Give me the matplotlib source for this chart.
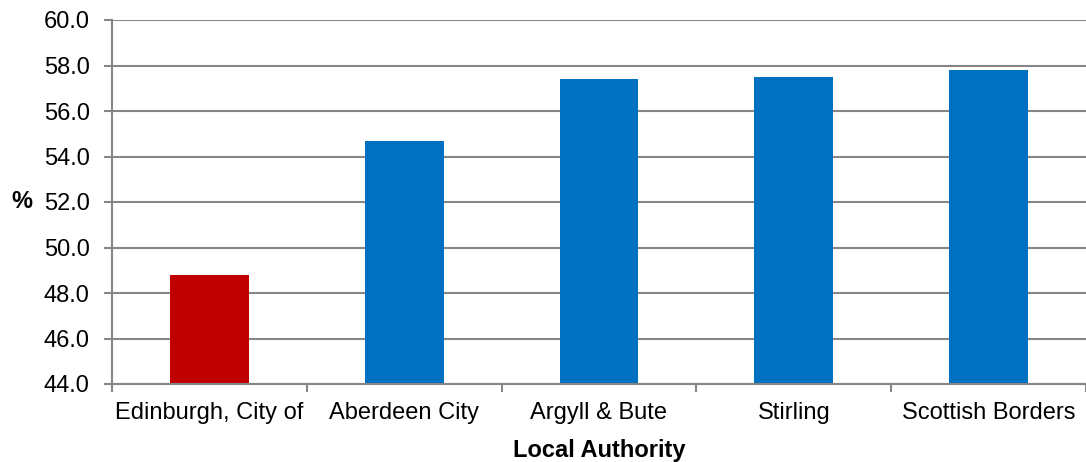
import matplotlib
import numpy as np

matplotlib.use("Agg")
import matplotlib.pyplot as plt  # noqa: E402

plt.rcParams["font.family"] = ["Liberation Sans", "DejaVu Sans"]

# data
authorities = ["Edinburgh, City of", "Aberdeen City", "Argyll & Bute", "Stirling", "Scottish Borders"]
pct = [48.8, 54.7, 57.4, 57.5, 57.8]
bar_colors = ["#C00000", "#0070C0", "#0070C0", "#0070C0", "#0070C0"]
yticks = np.arange(44, 60.1, 2)

GRID = "#868686"
LW = 1.5

fig = plt.figure(figsize=(10.86, 4.62), dpi=100)
ax = fig.add_axes([112 / 1086, 1 - 384 / 462, 974 / 1086, 364 / 462])

x = np.arange(len(authorities))
ax.bar(x, [v - 44 for v in pct], bottom=44, width=0.405, color=bar_colors, zorder=2)

ax.set_ylim(44, 60)
ax.set_xlim(-0.5, len(authorities) - 0.5)
ax.set_yticks(yticks)
ax.set_yticklabels([f"{v:.1f}" for v in yticks], fontsize=17)
ax.set_xticks(x)
ax.set_xticklabels(authorities, fontsize=17)
ax.set_xticks(np.arange(len(authorities) + 1) - 0.5, minor=True)
ax.tick_params(axis="x", which="major", length=0, pad=13)
ax.tick_params(axis="x", which="minor", length=6, width=LW, color=GRID)
ax.tick_params(axis="y", length=6, width=LW, color=GRID, pad=10)

ax.grid(True, axis="y", color=GRID, lw=LW, zorder=0)
ax.set_axisbelow(True)
for s in ["top", "right"]:
    ax.spines[s].set_visible(False)
for s in ["left", "bottom"]:
    ax.spines[s].set_color(GRID)
    ax.spines[s].set_linewidth(LW)

ax.set_ylabel("%", fontsize=17, fontweight="bold", rotation=0, va="center", labelpad=16)
ax.set_xlabel("Local Authority", fontsize=17, fontweight="bold", labelpad=11)

fig.savefig("out.png", dpi=100)
